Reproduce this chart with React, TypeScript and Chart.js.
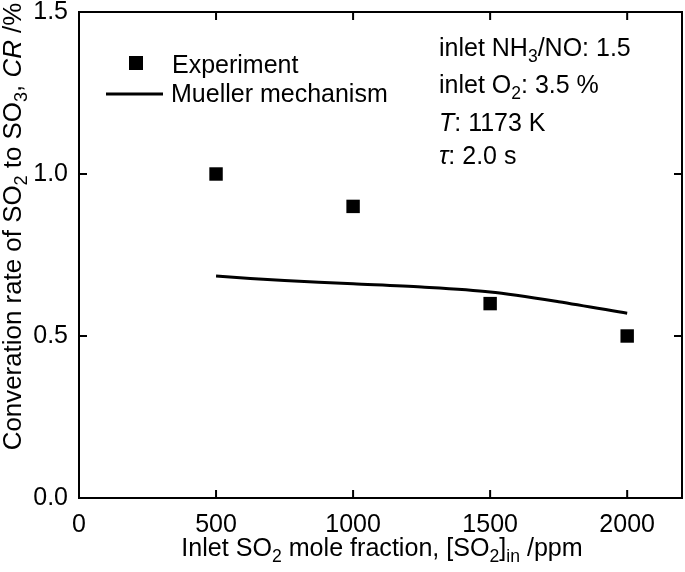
import React, { useEffect, useRef } from "react";
import { Chart, registerables } from "chart.js";
Chart.register(...registerables);

const experimentX = [500, 1000, 1500, 2000];
const experimentY = [1.0, 0.9, 0.6, 0.5];
const muellerX = [500, 750, 1000, 1250, 1500, 1750, 2000];
const muellerY = [0.685, 0.671, 0.661, 0.651, 0.636, 0.606, 0.57];
const xTicks = [0, 500, 1000, 1500, 2000];
const yTicks = [0, 0.5, 1.0, 1.5];
const legendLabels = ["Experiment", "Mueller mechanism"];

const FAMILY = '"Liberation Sans", Arial, Helvetica, sans-serif';
const FS = 25;

type Seg = { t: string; s?: "sub" | "it" };

function segFont(s: Seg["s"], size: number) {
  if (s === "sub") return `${(size * 0.7).toFixed(1)}px ${FAMILY}`;
  if (s === "it") return `italic ${size.toFixed(1)}px ${FAMILY}`;
  return `${size.toFixed(1)}px ${FAMILY}`;
}

function measureRich(ctx: CanvasRenderingContext2D, segs: Seg[], size: number) {
  return segs.map((g) => {
    ctx.font = segFont(g.s, size);
    return ctx.measureText(g.t).width;
  });
}

function drawRich(
  ctx: CanvasRenderingContext2D,
  segs: Seg[],
  x: number,
  y: number,
  size: number,
  align: "left" | "center",
  targetWidth?: number
) {
  ctx.textAlign = "left";
  ctx.textBaseline = "alphabetic";
  let widths = measureRich(ctx, segs, size);
  let total = widths.reduce((a, b) => a + b, 0);
  if (targetWidth) {
    size = (size * targetWidth) / total;
    widths = measureRich(ctx, segs, size);
    total = widths.reduce((a, b) => a + b, 0);
  }
  let cx = align === "center" ? x - total / 2 : x;
  segs.forEach((g, i) => {
    ctx.font = segFont(g.s, size);
    ctx.fillText(g.t, cx, g.s === "sub" ? y + size * 0.25 : y);
    cx += widths[i];
  });
}

const xTitle: Seg[] = [
  { t: "Inlet SO" }, { t: "2", s: "sub" }, { t: " mole fraction, [SO" }, { t: "2", s: "sub" },
  { t: "]" }, { t: "in", s: "sub" }, { t: " /ppm" },
];
const yTitle: Seg[] = [
  { t: "Converation rate of SO" }, { t: "2", s: "sub" }, { t: " to SO" }, { t: "3", s: "sub" },
  { t: ", " }, { t: "CR", s: "it" }, { t: " /%" },
];
const notes: Seg[][] = [
  [{ t: "inlet NH" }, { t: "3", s: "sub" }, { t: "/NO: 1.5" }],
  [{ t: "inlet O" }, { t: "2", s: "sub" }, { t: ": 3.5 %" }],
  [{ t: "T", s: "it" }, { t: ": 1173 K" }],
  [{ t: "τ", s: "it" }, { t: ": 2.0 s" }],
];
const noteBaselines = [56, 93, 131, 164];

const zeroPad = (s: any) => {
  s.paddingLeft = 0;
  s.paddingRight = 0;
  s.paddingTop = 0;
  s.paddingBottom = 0;
};

const decorPlugin = {
  id: "decor",
  afterDraw(chart: any) {
    const ctx: CanvasRenderingContext2D = chart.ctx;
    const { left, right, top, bottom } = chart.chartArea;
    const xs = chart.scales.x;
    const ys = chart.scales.y;
    ctx.save();
    ctx.strokeStyle = "#000";
    ctx.fillStyle = "#000";
    ctx.lineWidth = 2;
    ctx.strokeRect(left, top, right - left, bottom - top);
    const TL = 8;
    ctx.beginPath();
    xTicks.forEach((v) => {
      const px = xs.getPixelForValue(v);
      if (px <= left + 1 || px >= right - 1) return;
      ctx.moveTo(px, bottom);
      ctx.lineTo(px, bottom - TL);
      ctx.moveTo(px, top);
      ctx.lineTo(px, top + TL);
    });
    yTicks.forEach((v) => {
      const py = ys.getPixelForValue(v);
      if (py <= top + 1 || py >= bottom - 1) return;
      ctx.moveTo(left, py);
      ctx.lineTo(left + TL, py);
      ctx.moveTo(right, py);
      ctx.lineTo(right - TL, py);
    });
    ctx.stroke();

    // legend
    ctx.fillRect(136 - 7, 63 - 7, 14, 14);
    ctx.font = `${FS}px ${FAMILY}`;
    ctx.textBaseline = "alphabetic";
    ctx.textAlign = "left";
    ctx.fillText(legendLabels[0], 172, 73);
    ctx.beginPath();
    ctx.lineWidth = 3;
    ctx.moveTo(106, 94);
    ctx.lineTo(163, 94);
    ctx.stroke();
    ctx.fillText(legendLabels[1], 171, 102);

    // notes
    notes.forEach((n, i) => drawRich(ctx, n, 439, noteBaselines[i], FS, "left"));

    // titles
    drawRich(ctx, xTitle, 382, 556, FS, "center", 402);
    ctx.translate(21, 226.5);
    ctx.rotate(-Math.PI / 2);
    drawRich(ctx, yTitle, 0, 0, FS, "center", 447);
    ctx.restore();
  },
};

export default function App() {
  const ref = useRef<HTMLCanvasElement | null>(null);
  useEffect(() => {
    document.body.style.margin = "0";
    const canvas = ref.current!;
    const chart = new Chart(canvas, {
      type: "scatter",
      data: {
        datasets: [
          {
            label: legendLabels[1],
            data: muellerX.map((x, i) => ({ x, y: muellerY[i] })),
            showLine: true,
            borderColor: "#000",
            borderWidth: 3,
            pointRadius: 0,
            tension: 0.3,
          },
          {
            label: legendLabels[0],
            data: experimentX.map((x, i) => ({ x, y: experimentY[i] })),
            pointStyle: "rect",
            pointRadius: 9.5,
            borderWidth: 0,
            backgroundColor: "#000",
            borderColor: "#000",
          },
        ],
      },
      options: {
        animation: false,
        responsive: false,
        devicePixelRatio: 1,
        layout: { autoPadding: false, padding: { top: 12, right: 3, left: 0, bottom: 0 } },
        plugins: { legend: { display: false }, tooltip: { enabled: false } },
        scales: {
          x: {
            type: "linear",
            min: 0,
            max: 2200,
            afterBuildTicks: (s: any) => {
              s.ticks = xTicks.map((v) => ({ value: v }));
            },
            afterFit: (s: any) => {
              s.height = 74;
              zeroPad(s);
            },
            grid: { display: false, drawTicks: false },
            border: { display: false },
            ticks: {
              color: "#000",
              font: { family: FAMILY, size: FS },
              padding: 12,
              maxRotation: 0,
              autoSkip: false,
              callback: (v: any) => String(v),
            },
          },
          y: {
            type: "linear",
            min: 0,
            max: 1.5,
            afterBuildTicks: (s: any) => {
              s.ticks = yTicks.map((v) => ({ value: v }));
            },
            afterFit: (s: any) => {
              s.width = 79;
              zeroPad(s);
            },
            grid: { display: false, drawTicks: false },
            border: { display: false },
            ticks: {
              color: "#000",
              font: { family: FAMILY, size: FS },
              padding: 11,
              autoSkip: false,
              callback: (v: any) => Number(v).toFixed(1),
            },
          },
        },
      },
      plugins: [decorPlugin],
    });
    return () => chart.destroy();
  }, []);
  return <canvas ref={ref} width={685} height={572} style={{ display: "block" }} />;
}
